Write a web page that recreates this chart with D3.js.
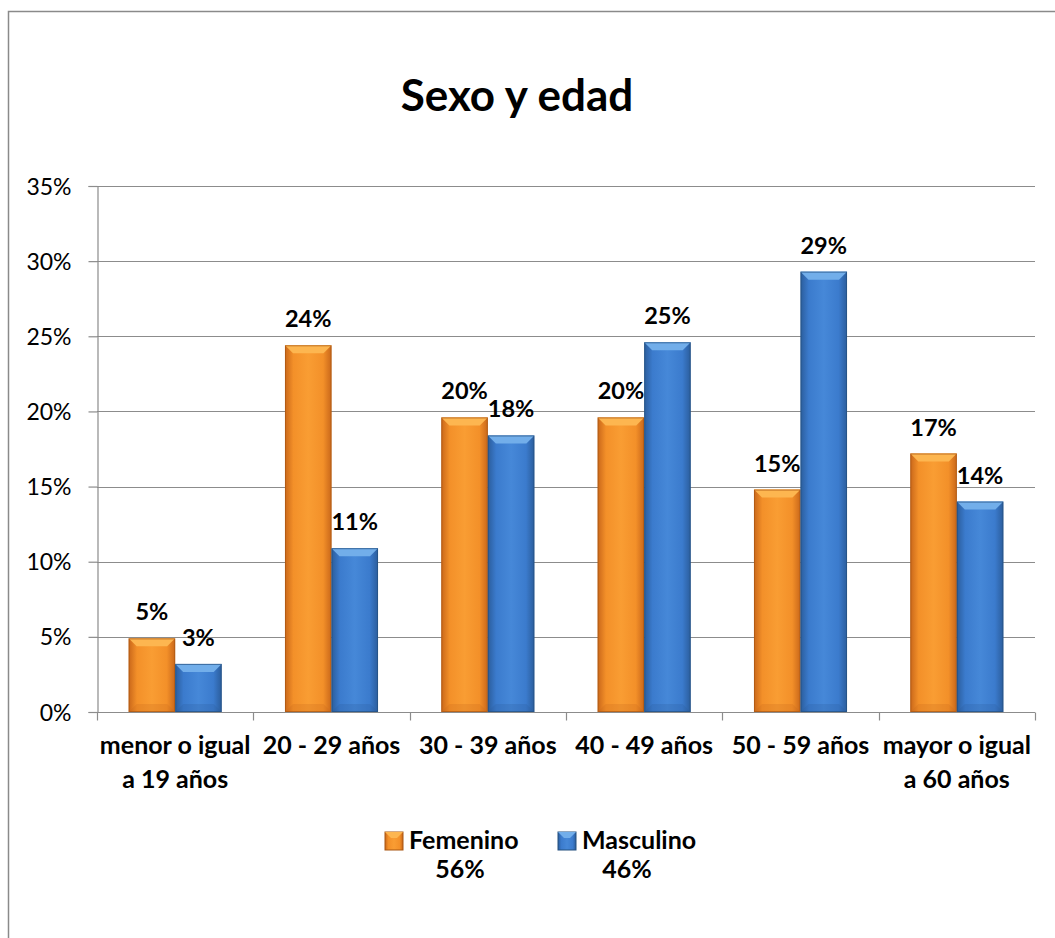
<!DOCTYPE html>
<html>
<head>
<meta charset="utf-8">
<script src="https://cdn.jsdelivr.net/npm/d3@7"></script>
<style>
  body { margin: 0; background: #fff; }
  text { font-family: Lato, "Open Sans", sans-serif; fill: #000; }
</style>
</head>
<body>
<div id="chart"></div>
<script>
// chart data
var categories = ['menor o igual\na 19 años', '20 - 29 años', '30 - 39 años', '40 - 49 años', '50 - 59 años', 'mayor o igual\na 60 años']
var seriesNames = ['Femenino', 'Masculino']
var seriesTotals = ['56%', '46%']
var femenino = [4.9, 24.4, 19.6, 19.6, 14.8, 17.2]
var masculino = [3.2, 10.9, 18.4, 24.6, 29.3, 14.0]
var yTicks = [0, 5, 10, 15, 20, 25, 30, 35]

var width = 1055
var height = 938
var plot = { left: 97, right: 1035, top: 186, bottom: 712 }
var bevel = 8

var palette = {
  Femenino: { dark: '#c9671a', mid: '#f39029', light: '#f99d33', top: '#fdb650', edge: '#a85612' },
  Masculino: { dark: '#2b5d9c', mid: '#3b7bcd', light: '#4688d8', top: '#72aeea', edge: '#24507f' }
}

var rows = categories.map(function (c, i) {
  return { cat: c, values: [femenino[i], masculino[i]] }
})

var svg = d3.select('#chart').append('svg')
  .attr('width', width)
  .attr('height', height)

var defs = svg.append('defs')
seriesNames.forEach(function (name) {
  var p = palette[name]
  var g = defs.append('linearGradient')
    .attr('id', 'grad-' + name)
    .attr('x1', '0').attr('x2', '1').attr('y1', '0').attr('y2', '0')
  g.append('stop').attr('offset', '0%').attr('stop-color', p.dark)
  g.append('stop').attr('offset', '18%').attr('stop-color', p.mid)
  g.append('stop').attr('offset', '50%').attr('stop-color', p.light)
  g.append('stop').attr('offset', '82%').attr('stop-color', p.mid)
  g.append('stop').attr('offset', '100%').attr('stop-color', p.dark)
})

// outer frame (extends past the window like the reference)
svg.append('rect')
  .attr('x', 8.5).attr('y', 11.5)
  .attr('width', 1200).attr('height', 1000)
  .attr('fill', 'none')
  .attr('stroke', '#8a8a8a')
  .attr('stroke-width', 1.5)

svg.append('text')
  .attr('x', 517)
  .attr('y', 111)
  .attr('text-anchor', 'middle')
  .style('font-size', '44px')
  .style('font-weight', 'bold')
  .text('Sexo y edad')

var x0 = d3.scaleBand()
  .domain(categories)
  .range([plot.left, plot.right])
  .padding(0)

var x1 = d3.scaleBand()
  .domain(seriesNames)
  .range([0, x0.bandwidth()])
  .paddingInner(0)
  .paddingOuter(0.68)

var y = d3.scaleLinear()
  .domain([0, 35])
  .range([plot.bottom, plot.top])

// gridlines
svg.append('g')
  .selectAll('line')
  .data(yTicks)
  .enter().append('line')
  .attr('x1', plot.left)
  .attr('x2', plot.right)
  .attr('y1', function (d) { return Math.round(y(d)) + 0.5 })
  .attr('y2', function (d) { return Math.round(y(d)) + 0.5 })
  .attr('stroke', '#8c8c8c')
  .attr('stroke-width', 1.2)

// y axis
var yAxis = svg.append('g')
  .attr('transform', 'translate(' + (plot.left + 0.5) + ',0)')
  .call(d3.axisLeft(y)
    .tickValues(yTicks)
    .tickSize(9)
    .tickPadding(17)
    .tickFormat(function (d) { return d + '%' }))
yAxis.select('.domain').attr('stroke', '#8c8c8c').attr('stroke-width', 1.2)
yAxis.selectAll('.tick line').attr('stroke', '#8c8c8c').attr('stroke-width', 1.2)
yAxis.selectAll('.tick text')
  .style('font-size', '23px')
  .attr('fill', '#000')
  .attr('dy', '0.35em')

// x axis
var xAxis = svg.append('g')
  .attr('transform', 'translate(0,' + (plot.bottom + 0.5) + ')')
xAxis.append('line')
  .attr('x1', plot.left).attr('x2', plot.right)
  .attr('stroke', '#8c8c8c').attr('stroke-width', 1.2)
xAxis.selectAll('.xtick')
  .data(categories.concat(['end']))
  .enter().append('line')
  .attr('class', 'xtick')
  .attr('x1', function (d, i) { return Math.round(plot.left + i * x0.step()) + 0.5 })
  .attr('x2', function (d, i) { return Math.round(plot.left + i * x0.step()) + 0.5 })
  .attr('y1', 0).attr('y2', 8)
  .attr('stroke', '#8c8c8c').attr('stroke-width', 1.2)

xAxis.selectAll('.xlabel')
  .data(categories)
  .enter().append('text')
  .attr('class', 'xlabel')
  .attr('text-anchor', 'middle')
  .attr('transform', function (d) { return 'translate(' + (x0(d) + x0.bandwidth() / 2) + ',0)' })
  .style('font-size', '25px')
  .style('font-weight', 'bold')
  .each(function (d) {
    var t = d3.select(this)
    d.split('\n').forEach(function (line, i) {
      t.append('tspan').attr('x', 0).attr('y', 41 + i * 34).text(line)
    })
  })

// bars
var groups = svg.append('g')
  .selectAll('g')
  .data(rows)
  .enter().append('g')
  .attr('transform', function (d) { return 'translate(' + x0(d.cat) + ',0)' })

var bars = groups.selectAll('g.bar')
  .data(function (d) {
    return d.values.map(function (v, i) { return { name: seriesNames[i], value: v } })
  })
  .enter().append('g')
  .attr('class', 'bar')

bars.append('rect')
  .attr('x', function (d) { return x1(d.name) })
  .attr('y', function (d) { return y(d.value) })
  .attr('width', x1.bandwidth())
  .attr('height', function (d) { return y(0) - y(d.value) })
  .attr('fill', function (d) { return 'url(#grad-' + d.name + ')' })

bars.append('path')
  .attr('d', function (d) {
    var x = x1(d.name)
    var w = x1.bandwidth()
    var t = y(d.value)
    return 'M' + x + ',' + t + 'L' + (x + w) + ',' + t +
      'L' + (x + w - bevel) + ',' + (t + bevel) + 'L' + (x + bevel) + ',' + (t + bevel) + 'Z'
  })
  .attr('fill', function (d) { return palette[d.name].top })

bars.append('path')
  .attr('d', function (d) {
    var x = x1(d.name)
    var w = x1.bandwidth()
    var b = y(0)
    return 'M' + x + ',' + b + 'L' + (x + w) + ',' + b +
      'L' + (x + w - bevel) + ',' + (b - bevel) + 'L' + (x + bevel) + ',' + (b - bevel) + 'Z'
  })
  .attr('fill', function (d) { return palette[d.name].dark })
  .attr('opacity', 0.25)

bars.append('rect')
  .attr('x', function (d) { return x1(d.name) + 0.5 })
  .attr('y', function (d) { return y(d.value) + 0.5 })
  .attr('width', x1.bandwidth() - 1)
  .attr('height', function (d) { return y(0) - y(d.value) - 1 })
  .attr('fill', 'none')
  .attr('stroke', function (d) { return palette[d.name].edge })
  .attr('stroke-opacity', 0.7)
  .attr('stroke-width', 1)

bars.append('text')
  .attr('x', function (d) { return x1(d.name) + x1.bandwidth() / 2 })
  .attr('y', function (d) { return y(d.value) - 18 })
  .attr('text-anchor', 'middle')
  .style('font-size', '23.5px')
  .style('font-weight', 'bold')
  .text(function (d) { return Math.round(d.value) + '%' })

// legend
var legendX = [385, 558]
var legend = svg.append('g')
  .selectAll('g')
  .data(seriesNames)
  .enter().append('g')
  .attr('transform', function (d, i) { return 'translate(' + legendX[i] + ',832)' })

legend.append('rect')
  .attr('width', 18).attr('height', 18)
  .attr('fill', function (d) { return 'url(#grad-' + d + ')' })
  .attr('stroke', function (d) { return palette[d].edge })
  .attr('stroke-width', 1)
legend.append('path')
  .attr('d', 'M0,0L18,0L12,6L6,6Z')
  .attr('fill', function (d) { return palette[d].top })

legend.append('text')
  .attr('x', 24)
  .attr('y', 17)
  .style('font-size', '25px')
  .style('font-weight', 'bold')
  .text(function (d) { return d })

legend.append('text')
  .attr('x', function (d, i) { return i === 0 ? 75 : 69 })
  .attr('y', 46)
  .attr('text-anchor', 'middle')
  .style('font-size', '25px')
  .style('font-weight', 'bold')
  .text(function (d, i) { return seriesTotals[i] })
</script>
</body>
</html>
